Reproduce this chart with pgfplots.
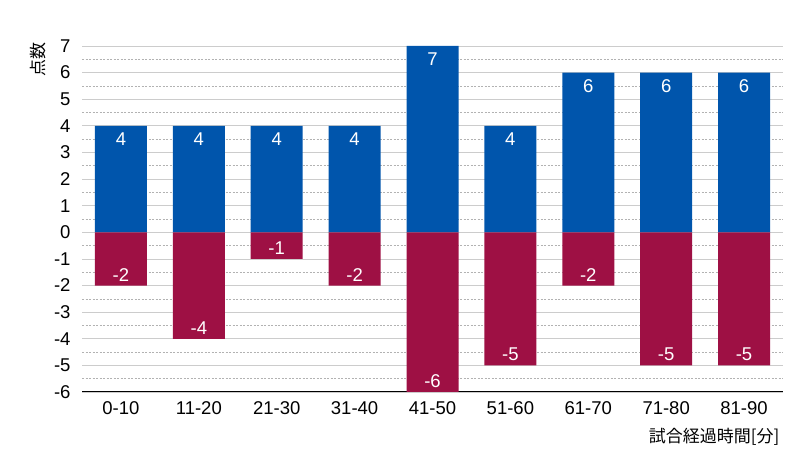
\documentclass[border=0pt]{standalone}
\usepackage{pgfplots}
\pgfplotsset{compat=1.18}
\usepackage{fontspec}
\setmainfont{Liberation Sans}
\newfontfamily\cjk{Noto Sans CJK JP}
\definecolor{barblue}{RGB}{0,85,172}
\definecolor{barred}{RGB}{158,16,68}
\begin{document}
\begin{tikzpicture}[x=1pt,y=1pt]
\path[use as bounding box] (0,0) rectangle (803,463);
\begin{axis}[
  at={(82pt,71pt)}, anchor=south west,
  scale only axis, width=701pt, height=346pt,
  xmin=-0.5, xmax=8.5, ymin=-6, ymax=7,
  xtick={0,...,8},
  xticklabels={0-10,11-20,21-30,31-40,41-50,51-60,61-70,71-80,81-90},
  ytick={-6,...,7},
  minor ytick={-5.5,-4.5,...,6.5},
  ymajorgrids, yminorgrids,
  major grid style={draw=gray!40, line width=0.8pt},
  minor grid style={draw=gray!60, line width=0.6pt, dash pattern=on 2pt off 1.5pt},
  axis x line*=bottom, axis y line*=left,
  x axis line style={draw=black, line width=1pt, -},
  y axis line style={draw=none},
  major tick length=0pt, minor tick length=0pt,
  tick label style={font=\fontsize{18.5}{20}\selectfont},
  /pgf/number format/assume math mode=true,
  yticklabel style={xshift=-8pt},
  xticklabel style={yshift=-6pt},
  ylabel={\cjk 点数},
  every axis y label/.style={at={(axis description cs:0,1)}, anchor=center, xshift=-44pt, yshift=-14pt, rotate=90, font=\fontsize{17}{19}\selectfont},
  xlabel={\cjk 試合経過時間[分]},
  every axis x label/.style={at={(axis description cs:1,0)}, anchor=east, yshift=-45pt, font=\fontsize{17}{19}\selectfont},
  ybar, bar width=52pt, bar shift=0pt,
  nodes near coords,
  nodes near coords style={font=\fontsize{18.5}{20}\selectfont, text=white},
  clip=false,
]
\addplot[fill=barblue, draw=none, nodes near coords style={anchor=north, yshift=-3pt}] coordinates {
 (0,4) (1,4) (2,4) (3,4) (4,7) (5,4) (6,6) (7,6) (8,6)};
\addplot[fill=barred, draw=none, nodes near coords style={anchor=south, yshift=1pt}] coordinates {
 (0,-2) (1,-4) (2,-1) (3,-2) (4,-6) (5,-5) (6,-2) (7,-5) (8,-5)};
\end{axis}
\end{tikzpicture}
\end{document}
